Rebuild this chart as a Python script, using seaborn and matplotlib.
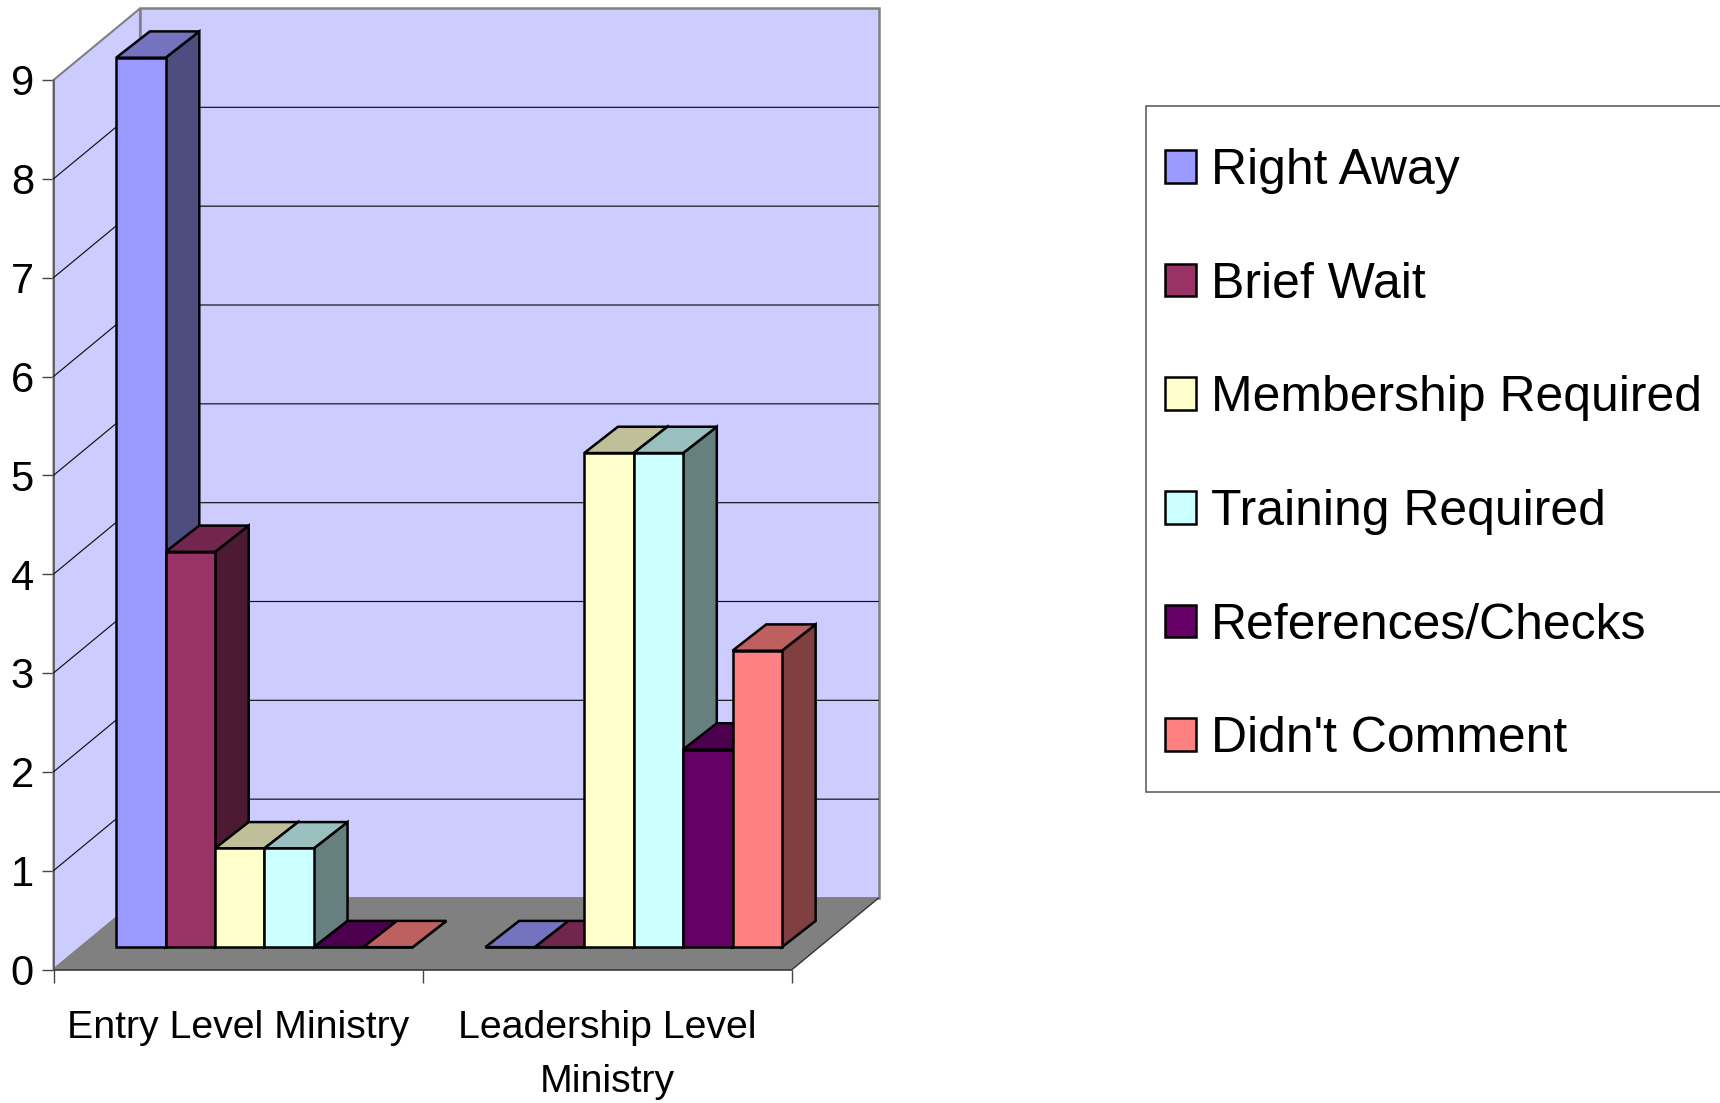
import matplotlib
matplotlib.use("Agg")
import matplotlib.pyplot as plt
from matplotlib.patches import Polygon, Rectangle, Patch
from matplotlib.ticker import FixedLocator, NullFormatter, FixedFormatter
import pandas as pd
import seaborn as sns

categories = ["Entry Level Ministry", "Leadership Level\nMinistry"]
series = ["Right Away", "Brief Wait", "Membership Required",
          "Training Required", "References/Checks", "Didn't Comment"]
entry_values = [9, 4, 1, 1, 0, 0]
leadership_values = [0, 0, 5, 5, 2, 3]
colors = ["#9999FF", "#993366", "#FFFFCC", "#CCFFFF", "#660066", "#FF8080"]
y_ticks = list(range(0, 10))

sns.set_theme(style="white")
plt.rcParams["font.family"] = ["Liberation Sans", "DejaVu Sans"]
W, H = 1720, 1103
fig = plt.figure(figsize=(W / 100, H / 100), dpi=100, facecolor="white")
L, R, B, T = 53.5, 792, 969.5, 80
ax = fig.add_axes([L / W, 1 - B / H, (R - L) / W, (B - T) / H])

df = pd.DataFrame({
    "category": [c for c in categories for _ in series],
    "series": series * 2,
    "value": entry_values + leadership_values,
})
sns.barplot(data=df, x="category", y="value", hue="series", order=categories,
            hue_order=series, palette=colors, width=0.803, gap=0, saturation=1,
            edgecolor="black", linewidth=1.8, legend=False, ax=ax)
ax.set_xlim(-0.5, 1.5)
ax.set_ylim(0, 9)
ax.set_xlabel("")
ax.set_ylabel("")
for s in ax.spines.values():
    s.set_visible(False)

bars = sorted([p for p in ax.patches if isinstance(p, Rectangle)], key=lambda p: p.get_x())

PX_X = 2.0 / (R - L)
PX_Y = 9.0 / (B - T)
FX, FY = 86.5 * PX_X, 71.5 * PX_Y      # full floor depth
SX, SY = 26.3 * PX_X, 22.3 * PX_Y      # bar front-plane offset
DX, DY = 33.7 * PX_X, 26.3 * PX_Y      # bar depth
x0, x1 = -0.5, 1.5
GREY = "#808080"

ax.add_patch(Polygon([(x0, 0), (x0 + FX, FY), (x0 + FX, 9 + FY), (x0, 9)], closed=True,
                     facecolor="#CCCCFF", edgecolor=GREY, lw=1.5, clip_on=False, zorder=1))
ax.add_patch(Polygon([(x0 + FX, FY), (x1 + FX, FY), (x1 + FX, 9 + FY), (x0 + FX, 9 + FY)], closed=True,
                     facecolor="#CCCCFF", edgecolor=GREY, lw=1.8, clip_on=False, zorder=1))
ax.add_patch(Polygon([(x0, 0), (x1, 0), (x1 + FX, FY), (x0 + FX, FY)], closed=True,
                     facecolor=GREY, edgecolor=GREY, lw=1, clip_on=False, zorder=1.1))
ax.plot([x1, x1 + FX], [0, FY], color="#333333", lw=0.9, clip_on=False, zorder=1.2)
ax.plot([x0, x0], [0, 9], color="#555555", lw=1.1, clip_on=False, zorder=1.2)
ax.plot([x0, x1], [0, 0], color="#333333", lw=1.1, clip_on=False, zorder=1.2)
for v in y_ticks[1:-1]:
    ax.plot([x0, x0 + FX, x1 + FX], [v, v + FY, v + FY], color="#111111", lw=0.85,
            clip_on=False, zorder=1.5)

z = 3
for b in bars:
    x, w, h = b.get_x() + SX, b.get_width(), b.get_height()
    b.set_x(x)
    b.set_y(SY)
    b.set_clip_on(False)
    b.set_joinstyle("miter")
    r, g, bl, _ = b.get_facecolor()
    base, top = SY, SY + h
    ax.add_patch(Polygon([(x + w, base), (x + w + DX, base + DY), (x + w + DX, top + DY), (x + w, top)],
                         closed=True, facecolor=(r * .5, g * .5, bl * .5), edgecolor="black",
                         lw=1.8, joinstyle="miter", clip_on=False, zorder=z))
    ax.add_patch(Polygon([(x, top), (x + w, top), (x + w + DX, top + DY), (x + DX, top + DY)],
                         closed=True, facecolor=(r * .75, g * .75, bl * .75), edgecolor="black",
                         lw=1.8, joinstyle="miter", clip_on=False, zorder=z))
    b.set_zorder(z + 0.5)
    z += 1

ax.set_yticks(y_ticks)
ax.set_yticklabels([str(v) for v in y_ticks], fontsize=30, color="black")
ax.tick_params(axis="y", left=True, length=8.6, width=1.0, color="#444444", pad=5.5)
ax.xaxis.set_major_locator(FixedLocator([x0, 0.5, x1]))
ax.xaxis.set_major_formatter(NullFormatter())
ax.xaxis.set_minor_locator(FixedLocator([0, 1]))
ax.xaxis.set_minor_formatter(FixedFormatter(categories))
ax.tick_params(axis="x", which="major", bottom=True, length=9, width=1.0, color="#444444")
ax.tick_params(axis="x", which="minor", bottom=False, length=0, pad=29, labelsize=28.3, labelcolor="black")
for t in ax.get_xminorticklabels():
    t.set_linespacing(1.65)

# legend
fig.add_artist(Rectangle((1146 / W, 1 - 792 / H), 700 / W, (792 - 105.5) / H, transform=fig.transFigure,
                         facecolor="white", edgecolor="#555555", lw=1.1, zorder=0))
handles = [Patch(facecolor=c, edgecolor="black", lw=1.8) for c in colors]
leg = fig.legend(handles, series, loc="upper left", frameon=False,
                 bbox_to_anchor=(1165 / W, 1 - 148 / H), borderaxespad=0, borderpad=0,
                 fontsize=35.9, labelspacing=1.357, handlelength=0.63, handleheight=0.63,
                 handletextpad=0.3, labelcolor="black")

fig.savefig("out.png", dpi=100, facecolor="white")
